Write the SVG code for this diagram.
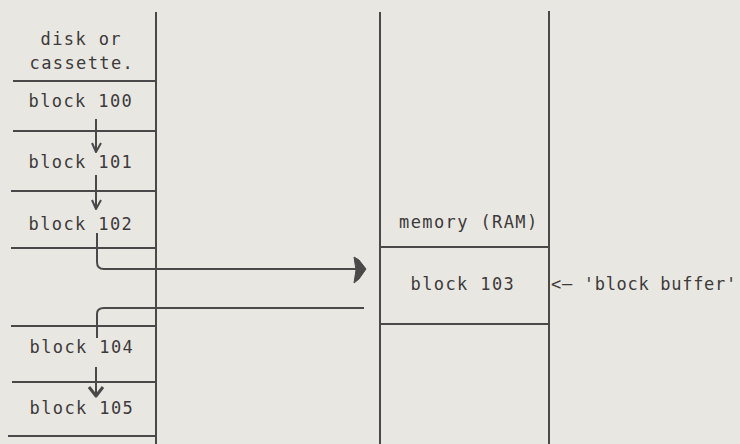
<svg xmlns="http://www.w3.org/2000/svg" width="740" height="444" viewBox="0 0 740 444">
<style>
.ln{stroke:#4a4848;stroke-width:2;fill:none;stroke-linecap:butt}
.cn{stroke:#4a4848;stroke-width:2;fill:none;stroke-linejoin:round}
.t{font-family:"DejaVu Sans Mono","Liberation Mono",monospace;font-size:17px;letter-spacing:1.4px;fill:#3c3a3a}
.t2{letter-spacing:0.7px}
</style>
<rect width="740" height="444" fill="#e9e7e2"/>
<g id="disk-column">
<line class="ln" x1="156" y1="12" x2="156" y2="444"/>
<line class="ln" x1="13" y1="81" x2="157" y2="81"/>
<line class="ln" x1="13" y1="131" x2="157" y2="131"/>
<line class="ln" x1="11" y1="191" x2="155" y2="191"/>
<line class="ln" x1="11" y1="248" x2="155" y2="248"/>
<line class="ln" x1="11" y1="326" x2="155" y2="326"/>
<line class="ln" x1="12" y1="382" x2="155" y2="382"/>
<line class="ln" x1="8" y1="436" x2="156" y2="436"/>
</g>
<g id="disk-label"><text class="t" x="40.5" y="45">disk or</text><text class="t" x="29.5" y="69">cassette.</text></g>
<g id="block100"><text class="t" x="28.5" y="107">block 100</text></g>
<g id="block101"><text class="t" x="28.5" y="168">block 101</text></g>
<g id="block102"><text class="t" x="28.5" y="230">block 102</text></g>
<g id="block104"><text class="t" x="29.5" y="353">block 104</text></g>
<g id="block105"><text class="t" x="29.5" y="414">block 105</text></g>
<g id="memory-column">
<line class="ln" x1="380" y1="12" x2="380" y2="444"/>
<line class="ln" x1="549" y1="11" x2="549" y2="444"/>
<line class="ln" x1="380" y1="247" x2="550" y2="247"/>
<line class="ln" x1="380" y1="324" x2="549" y2="324"/>
</g>
<g id="memory-label"><text class="t" x="399" y="228">memory (RAM)</text></g>
<g id="block103"><text class="t" x="410.5" y="290">block 103</text></g>
<g id="buffer-label"><text class="t t2" x="551" y="290">&lt;— 'block buffer'</text></g>
<g id="connectors">
<path class="cn" d="M96,119 V152 M92,143 L96,152 L101,143"/>
<path class="cn" d="M96,175 V209 M92,200 L96,209 L101,200"/>
<path class="cn" d="M96,367 V396" />
<path class="cn" style="stroke-width:3" d="M89,387 L96,396 L103,387"/>
<path class="cn" d="M97,233 V262 Q97,269 104,269 H357"/>
<path d="M354,257 L359,260 L366,269 L359,279 L354,283 L356,270 Z" fill="#4a4848" stroke="#4a4848" stroke-width="1" stroke-linejoin="round"/>
<path class="cn" d="M97,338 V314 Q97,308 104,308 H364"/>
</g>
</svg>
